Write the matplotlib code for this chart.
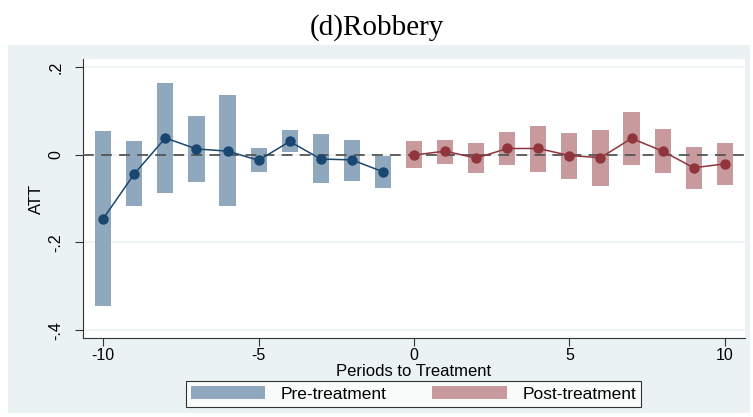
import matplotlib as mpl
import matplotlib.pyplot as plt
from matplotlib.patches import Patch, Rectangle

mpl.rcParams['font.family'] = 'sans-serif'
mpl.rcParams['font.sans-serif'] = ['Liberation Sans']

# event-study estimates (period relative to treatment)
pre_periods = [-10, -9, -8, -7, -6, -5, -4, -3, -2, -1]
pre_att = [-0.146, -0.044, 0.038, 0.013, 0.008, -0.013, 0.030, -0.010, -0.012, -0.039]
pre_upper = [0.055, 0.030, 0.164, 0.089, 0.135, 0.016, 0.057, 0.046, 0.034, -0.002]
pre_lower = [-0.346, -0.118, -0.087, -0.063, -0.116, -0.040, 0.005, -0.065, -0.061, -0.077]

post_periods = [0, 1, 2, 3, 4, 5, 6, 7, 8, 9, 10]
post_att = [-0.001, 0.008, -0.008, 0.014, 0.014, -0.002, -0.007, 0.037, 0.008, -0.030, -0.021]
post_upper = [0.030, 0.034, 0.027, 0.052, 0.066, 0.050, 0.057, 0.098, 0.059, 0.018, 0.027]
post_lower = [-0.031, -0.022, -0.043, -0.024, -0.040, -0.056, -0.072, -0.024, -0.043, -0.079, -0.070]

yticks = [0.2, 0, -0.2, -0.4]
ytick_labels = ['.2', '0', '-.2', '-.4']
xticks = [-10, -5, 0, 5, 10]

bg = '#eaf2f3'
pre_bar, pre_line = '#90a8bd', '#1a476f'
post_bar, post_line = '#c99a9d', '#90353b'

fig = plt.figure(figsize=(7.53, 4.17), dpi=100)
fig.add_artist(Rectangle((8 / 753, 4 / 417), 742 / 753, 368 / 417,
                         transform=fig.transFigure, facecolor=bg, edgecolor='none', zorder=-1))
ax = fig.add_axes([83 / 753, 79 / 417, 662 / 753, 279 / 417])
ax.set_facecolor('white')

for y in yticks:
    ax.axhline(y, color=bg, lw=1.2, zorder=0)

ax.bar(pre_periods, [u - l for u, l in zip(pre_upper, pre_lower)], bottom=pre_lower,
       width=0.52, color=pre_bar, zorder=2)
ax.bar(post_periods, [u - l for u, l in zip(post_upper, post_lower)], bottom=post_lower,
       width=0.52, color=post_bar, zorder=2)

ax.axhline(0, color='#555555', lw=1.3, ls=(0, (6, 4)), zorder=3)

ax.plot(pre_periods, pre_att, '-o', color=pre_line, lw=1.1, ms=6.5, zorder=4)
ax.plot(post_periods, post_att, '-o', color=post_line, lw=1.1, ms=6.5, zorder=4)

ax.set_xlim(-10.65, 10.65)
ax.set_ylim(-0.418, 0.218)
ax.set_xticks(xticks)
ax.set_xticklabels([str(x) for x in xticks], fontsize=11.5)
ax.set_yticks(yticks)
ax.set_yticklabels(ytick_labels, fontsize=11.5, rotation=90, va='center')
ax.tick_params(axis='both', direction='out', length=6, width=0.8, color='#333333')
ax.tick_params(axis='x', pad=1)
ax.tick_params(axis='y', pad=8)

for s in ['top', 'right']:
    ax.spines[s].set_visible(False)
ax.spines['left'].set_color('#333333')
ax.spines['bottom'].set_color('#333333')

ax.set_xlabel('Periods to Treatment', fontsize=12, labelpad=1)
ax.set_ylabel('ATT', fontsize=12, labelpad=3)

fig.text(0.5, 0.935, '(d)Robbery', ha='center', va='center', fontsize=21, family='Liberation Serif')

handles = [Patch(facecolor=pre_bar, label='Pre-treatment'),
           Patch(facecolor=post_bar, label='Post-treatment')]
leg = fig.legend(handles=handles, loc='center', bbox_to_anchor=(413.5 / 753, 1 - 394 / 417),
                 ncol=2, frameon=True, fancybox=False, fontsize=12.5, handlelength=4.3,
                 handleheight=0.8, handletextpad=0.9, columnspacing=2.6, borderpad=0.3,
                 borderaxespad=0)
leg.get_frame().set_edgecolor('black')
leg.get_frame().set_linewidth(0.8)

fig.savefig('out.png', dpi=100)
